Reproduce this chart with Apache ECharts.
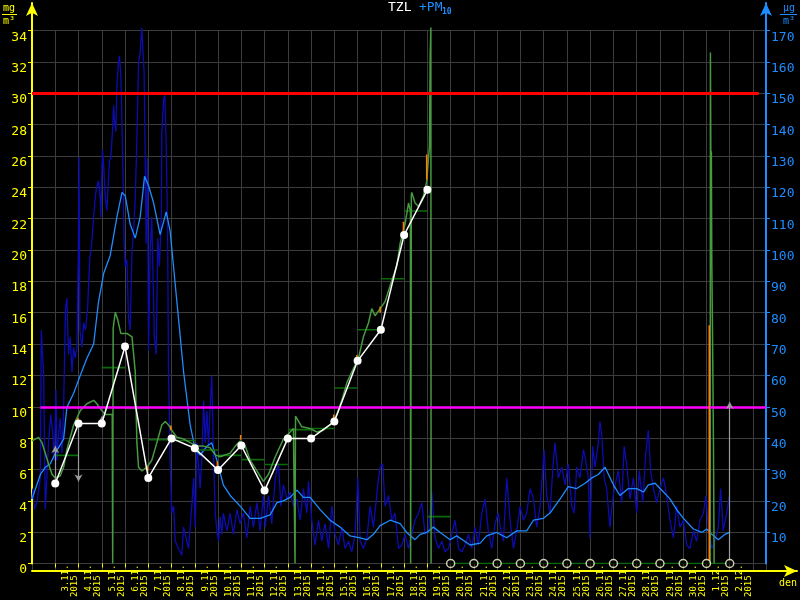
<!DOCTYPE html>
<html><head><meta charset="utf-8">
<script src="https://cdn.jsdelivr.net/npm/echarts@6/dist/echarts.min.js"></script>
<style>html,body{margin:0;background:#000}#c{width:800px;height:600px}</style>
</head><body><div id="c"></div>
<script>
// ---- DATA (time t in days from 3.11.2015 00:00) ----
const dayLabels = ['3.11.','4.11.','5.11.','6.11.','7.11.','8.11.','9.11.','10.11.','11.11.','12.11.','13.11.','14.11.','15.11.','16.11.','17.11.','18.11.','19.11.','20.11.','21.11.','22.11.','23.11.','24.11.','25.11.','26.11.','27.11.','28.11.','29.11.','30.11.','1.12.','2.12.'];
const yearLabel = '2015';

// PM10 raw (µg/m3, right axis)
const pm10Raw = [[-1.00,20.6],[-0.96,23.9],[-0.90,17.2],[-0.79,19.4],[-0.64,27.3],[-0.60,74.5],[-0.54,65.5],[-0.50,61.0],[-0.43,17.2],[-0.36,27.3],[-0.29,38.5],[-0.19,47.5],[-0.10,40.8],[-0.04,32.9],[0.03,55.4],[0.07,32.9],[0.14,40.8],[0.21,46.4],[0.29,35.2],[0.36,49.8],[0.44,81.3],[0.50,84.7],[0.57,66.7],[0.64,72.3],[0.72,61.0],[0.79,68.9],[0.86,65.5],[0.93,68.9],[0.99,97.0],[1.02,129.6],[1.06,74.5],[1.15,68.9],[1.22,76.8],[1.30,74.5],[1.39,81.3],[1.48,97.0],[1.56,101.5],[1.65,110.5],[1.72,116.8],[1.76,119.4],[1.86,122.1],[1.93,116.8],[1.96,110.5],[2.03,132.0],[2.08,127.3],[2.15,116.8],[2.22,112.6],[2.33,128.4],[2.39,129.4],[2.46,137.8],[2.51,146.2],[2.55,141.0],[2.61,137.8],[2.65,152.5],[2.72,159.9],[2.76,162.0],[2.82,155.7],[2.86,143.1],[2.91,125.2],[2.96,102.1],[3.01,94.8],[3.08,96.9],[3.15,78.0],[3.22,74.5],[3.30,99.3],[3.37,106.3],[3.44,116.8],[3.51,134.7],[3.58,159.9],[3.65,163.0],[3.72,170.9],[3.77,170.4],[3.82,156.7],[3.87,129.4],[3.91,102.1],[3.97,129.4],[4.01,67.8],[4.08,99.3],[4.15,110.5],[4.26,72.3],[4.34,66.7],[4.41,103.8],[4.48,94.8],[4.56,110.5],[4.58,136.8],[4.66,148.3],[4.71,149.4],[4.77,133.6],[4.83,106.3],[4.87,61.0],[4.94,32.9],[5.01,16.1],[5.09,18.3],[5.16,7.1],[5.30,4.8],[5.44,2.6],[5.52,11.6],[5.59,9.3],[5.73,4.8],[5.87,18.3],[5.95,27.3],[6.02,11.6],[6.09,38.5],[6.23,23.9],[6.30,32.9],[6.38,52.0],[6.45,38.5],[6.52,48.7],[6.59,37.4],[6.66,49.8],[6.73,59.9],[6.81,32.9],[6.88,16.1],[6.95,10.4],[7.02,7.1],[7.09,14.9],[7.16,9.3],[7.23,16.1],[7.38,10.4],[7.52,16.1],[7.66,9.3],[7.81,17.2],[7.95,12.7],[8.09,16.1],[8.24,8.2],[8.38,18.3],[8.52,11.6],[8.67,19.4],[8.81,10.4],[8.95,21.7],[9.03,11.6],[9.17,21.7],[9.31,12.7],[9.46,27.3],[9.60,31.8],[9.70,18.3],[9.81,25.1],[9.96,20.6],[10.10,22.8],[10.24,18.3],[10.39,20.6],[10.53,13.8],[10.67,23.9],[10.82,16.1],[10.89,26.2],[11.03,13.8],[11.17,5.9],[11.32,13.8],[11.46,7.1],[11.60,12.7],[11.75,4.8],[11.89,18.3],[12.03,9.3],[12.18,5.9],[12.32,11.6],[12.46,4.8],[12.61,7.1],[12.75,3.7],[12.89,9.3],[13.01,27.3],[13.11,7.1],[13.25,4.8],[13.40,8.2],[13.54,18.3],[13.68,11.6],[13.90,27.3],[13.97,30.7],[14.08,31.8],[14.18,18.3],[14.33,21.7],[14.47,13.8],[14.61,16.1],[14.76,4.8],[14.90,5.9],[15.04,9.3],[15.19,4.8],[15.26,4.8],[15.47,13.8],[15.62,16.1],[15.76,19.4],[15.90,9.3],[16.05,10.4],[16.19,22.8],[16.33,8.2],[16.48,4.8],[16.62,7.1],[16.76,3.7],[16.91,4.8],[17.05,9.3],[17.19,13.8],[17.34,4.8],[17.48,3.7],[17.62,5.9],[17.77,9.3],[17.91,4.8],[18.05,11.6],[18.19,5.9],[18.34,16.1],[18.48,20.6],[18.62,10.4],[18.77,4.8],[18.91,12.7],[19.05,16.1],[19.13,11.6],[19.27,7.1],[19.41,27.3],[19.56,13.8],[19.70,4.8],[19.84,10.4],[19.99,18.3],[20.13,13.8],[20.27,16.1],[20.42,23.9],[20.56,20.6],[20.70,11.6],[20.85,18.3],[21.02,36.3],[21.13,21.7],[21.27,16.1],[21.42,32.9],[21.49,38.5],[21.63,27.3],[21.78,30.7],[21.92,25.1],[22.06,31.8],[22.21,18.3],[22.31,16.1],[22.42,30.7],[22.56,27.3],[22.71,36.3],[22.78,34.1],[22.92,27.3],[22.99,8.2],[23.11,37.4],[23.21,30.7],[23.35,38.5],[23.42,45.3],[23.50,40.8],[23.60,27.3],[23.71,23.9],[23.85,11.6],[23.97,20.6],[24.07,25.1],[24.21,29.6],[24.36,19.4],[24.46,37.4],[24.57,31.8],[24.71,20.6],[24.86,27.3],[25.00,16.1],[25.11,29.6],[25.26,19.4],[25.39,35.2],[25.50,42.5],[25.60,29.6],[25.72,23.9],[25.86,19.4],[26.00,23.9],[26.15,27.3],[26.29,21.7],[26.43,13.8],[26.58,8.2],[26.72,18.3],[26.86,11.6],[27.01,13.8],[27.15,5.9],[27.29,4.8],[27.44,10.4],[27.58,7.1],[27.72,13.8],[27.87,16.1],[27.98,21.7],[28.08,11.6],[28.23,4.8],[28.37,7.1],[28.51,11.6],[28.61,23.9],[28.72,10.4],[28.87,16.1],[28.99,21.7]];

// PM10 moving average (µg/m3, right axis)
const pm10Avg = [[-1.00,20.6],[-0.64,28.4],[-0.43,30.7],[-0.21,31.8],[0.00,35.2],[0.36,39.7],[0.50,49.8],[0.79,54.3],[1.07,59.9],[1.36,65.5],[1.65,70.0],[1.86,83.5],[2.08,92.5],[2.36,98.2],[2.65,110.5],[2.87,118.4],[3.01,117.3],[3.22,108.3],[3.44,103.8],[3.65,110.5],[3.84,123.5],[4.01,120.6],[4.23,115.0],[4.51,104.9],[4.77,112.2],[4.94,106.0],[5.23,83.5],[5.52,61.0],[5.80,44.2],[6.02,36.3],[6.23,34.6],[6.52,37.4],[6.73,38.5],[6.95,32.9],[7.23,25.0],[7.52,21.7],[7.95,18.3],[8.38,14.4],[8.81,14.4],[9.24,15.5],[9.53,19.4],[9.81,20.0],[10.10,21.1],[10.39,23.4],[10.67,21.1],[10.96,21.1],[11.39,17.2],[11.82,13.8],[12.25,11.6],[12.68,8.8],[13.11,8.2],[13.40,7.6],[13.68,9.3],[13.97,12.1],[14.40,13.8],[14.83,12.7],[15.11,9.9],[15.47,7.6],[15.69,9.3],[15.97,9.9],[16.26,11.6],[16.55,9.9],[16.98,7.6],[17.26,8.8],[17.84,5.9],[18.27,6.5],[18.55,8.8],[18.98,9.9],[19.41,8.2],[19.84,10.4],[20.27,10.4],[20.56,13.8],[20.99,14.4],[21.27,16.1],[21.71,20.6],[22.06,24.5],[22.42,23.9],[22.78,25.6],[23.07,27.3],[23.35,28.4],[23.64,30.7],[24.00,25.1],[24.28,21.7],[24.64,23.9],[25.00,23.9],[25.29,22.8],[25.50,25.1],[25.79,25.6],[26.15,22.8],[26.43,20.6],[26.72,17.2],[27.01,14.4],[27.44,11.0],[27.80,9.9],[28.01,11.0],[28.23,9.3],[28.51,7.6],[28.80,9.3],[28.99,9.9]];

// TZL running values (mg/m3, left axis)
const tzl = [[-1.00,7.82],[-0.72,8.05],[-0.57,7.71],[-0.43,7.04],[-0.29,6.36],[-0.14,5.69],[0.00,5.46],[0.21,5.58],[0.36,6.14],[0.50,7.26],[0.79,8.84],[1.07,9.74],[1.36,10.19],[1.65,10.41],[1.79,10.19],[2.01,9.74],[2.15,9.51],[2.36,9.51],[2.45,9.51],[2.47,0],[2.49,15.0],[2.58,16.03],[2.68,15.58],[2.82,14.68],[3.08,14.68],[3.30,14.46],[3.44,12.21],[3.51,7.71],[3.58,6.14],[3.72,5.91],[3.94,6.14],[4.15,6.59],[4.37,7.71],[4.58,8.84],[4.73,9.06],[4.87,8.84],[5.01,8.50],[5.23,8.05],[5.52,7.94],[5.80,7.71],[6.09,7.49],[6.38,7.49],[6.66,7.38],[6.88,6.93],[7.09,6.81],[7.31,6.93],[7.52,7.04],[7.74,7.49],[7.95,7.82],[8.17,7.49],[8.38,6.59],[8.67,5.91],[8.95,5.24],[9.17,5.69],[9.46,6.81],[9.81,7.94],[10.10,8.39],[10.24,8.61],[10.30,8.61],[10.31,0],[10.32,0],[10.33,9.40],[10.39,9.29],[10.60,8.72],[10.96,8.61],[11.25,8.39],[11.53,8.50],[11.82,8.84],[12.11,9.51],[12.32,10.41],[12.54,11.54],[12.82,12.44],[13.04,13.11],[13.25,14.46],[13.47,15.36],[13.61,16.26],[13.75,15.81],[13.97,16.26],[14.18,16.71],[14.47,18.06],[14.68,18.96],[14.83,20.42],[15.04,21.66],[15.19,23.00],[15.27,22.5],[15.28,0],[15.30,0],[15.31,23.5],[15.33,23.68],[15.47,23.00],[15.62,22.78],[15.83,23.46],[15.97,24.35],[16.05,25.93],[16.09,26.60],[16.12,32.45],[16.15,34.2],[16.16,0],[16.17,'-'],[28.16,0],[28.17,32.6],[28.19,25.4],[28.21,26.3],[28.23,19.2],[28.26,14.8],[28.30,7.7],[28.33,0]];

// TZL daily means (horizontal segments)
const segDays = [0,1,2,3,4,5,6,7,8,9,10,11,12,13,14,15,16,17,18,19,20,21,22,23,24,25,26,27,28];
const segVals = [6.9,9.95,12.5,9.9,7.9,7.85,7.24,6.9,6.63,6.32,8.54,8.61,11.2,14.91,18.17,22.49,2.99,0,0,0,0,0,0,0,0,0,0,0,0];

// TZL daily points (white)
const dailyDays = [0,1,2,3,4,5,6,7,8,9,10,11,12,13,14,15,16];
const dailyVals = [5.10,8.93,8.93,13.85,5.46,7.98,7.35,5.96,7.53,4.65,7.98,7.98,9.06,12.93,14.91,20.96,23.84];
const missingDays = [17,18,19,20,21,22,23,24,25,26,27,28,29];

// orange marks
const orangeT  = [0.97,3.97,4.97,6.97,7.97,11.97,12.97,13.97,14.97,15.97,28.12];
const orangeLo = [8.9,5.9,8.5,6.1,7.9,9.1,12.9,16.0,21.2,24.5,0];
const orangeHi = [9.3,6.2,8.8,6.5,8.2,9.5,13.3,16.4,21.8,26.1,15.2];

// grey arrows
const arrowT = [0,1,2,29];
const arrowFrom = [5.10,8.93,8.93,0];
const arrowTo = [7.5,5.23,9.4,10.3];

// limits
const limitRed = 30, limitMagenta = 10;

// ---- CHART ----
const MONO = '"DejaVu Sans Mono", monospace';
const LEFTMAX = 568/ (540/34);
const chart = echarts.init(document.getElementById('c'));

const segData = [];
segDays.forEach((d,i)=>{ segData.push([d,segVals[i]],[d+1,segVals[i]],[d+1,'-']); });
const orangeData = [];
orangeT.forEach((t,i)=>{ orangeData.push([t,orangeLo[i]],[t,orangeHi[i]],[t+0.001,'-']); });
const dailyData = dailyDays.map((d,i)=>[d,dailyVals[i]]);
const missData = missingDays.map(d=>[d,0]);

const markData = [
  [{coord:[-1,limitRed],symbol:'none',lineStyle:{color:'#ff0000',width:3,type:'solid'}},{coord:[30.25,limitRed],symbol:'none'}],
  [{coord:[-0.64,limitMagenta],symbol:'none',lineStyle:{color:'#ff00ff',width:2.5,type:'solid'}},{coord:[30.56,limitMagenta],symbol:'none'}]
].concat(arrowT.map((t,i)=>[
  {coord:[t,arrowFrom[i]],symbol:'none',lineStyle:{color:'#9a9a9a',width:1.2,type:'solid'}},
  {coord:[t,arrowTo[i]],symbol:'arrow',symbolSize:[6,7]}
]));

const option = {
  backgroundColor:'#000',
  animation:false,
  grid:[
    {left:32,right:34,top:3,bottom:29},
    {left:32,right:34,top:31,bottom:29},
    {left:32,right:2,top:3,bottom:29}
  ],
  xAxis:[
    {type:'value',gridIndex:0,min:-1,max:30.56,interval:1,
     axisLine:{show:false,onZero:false},splitLine:{show:false},
     axisTick:{show:true,length:4,customValues:dayLabels.map((_,i)=>i),lineStyle:{color:'#ffff00',width:1}},
     axisLabel:{show:true,rotate:90,margin:1,color:'#ffff00',fontFamily:MONO,fontSize:9,lineHeight:9,
       customValues:dayLabels.map((_,i)=>i+0.64),
       formatter:(v)=>{const k=Math.round(v-0.64);return (dayLabels[k]||'')+'\n'+yearLabel+'  ';}}},
    {type:'value',gridIndex:1,min:-1,max:30.56,interval:1,
     axisLine:{show:false,onZero:false},axisTick:{show:false},axisLabel:{show:false},
     splitLine:{show:true,lineStyle:{color:'#3c3c3c',width:1}}},
    {type:'value',gridIndex:2,min:0,max:1,
     axisLine:{show:true,onZero:false,lineStyle:{color:'#ffff00',width:2},symbol:['none','arrow'],symbolSize:[9,13]},
     axisTick:{show:false},axisLabel:{show:false},splitLine:{show:false},
     name:'den',nameLocation:'end',nameGap:-9,
     nameTextStyle:{color:'#ffff00',fontFamily:MONO,fontSize:10,align:'center',verticalAlign:'top',padding:[7,0,0,0]}}
  ],
  yAxis:[
    {type:'value',gridIndex:0,position:'left',min:0,max:LEFTMAX,interval:2,
     axisLine:{show:true,onZero:false,lineStyle:{color:'#ffff00',width:2},symbol:['none','arrow'],symbolSize:[9,13]},
     axisTick:{show:true,length:4,lineStyle:{color:'#ffff00'}},
     axisLabel:{color:'#ffff00',fontFamily:MONO,fontSize:13,margin:5,verticalAlign:'top',showMaxLabel:false,
       formatter:v=>(Math.abs(v-Math.round(v))<1e-6 && Math.round(v)%2===0)?String(Math.round(v)):''},
     splitLine:{show:true,showMaxLine:false,lineStyle:{color:'#3c3c3c',width:1}}},
    {type:'value',gridIndex:0,position:'right',min:0,max:LEFTMAX*5,interval:10,
     axisLine:{show:true,onZero:false,lineStyle:{color:'#1e8cff',width:2},symbol:['none','arrow'],symbolSize:[9,13]},
     axisTick:{show:true,length:4,lineStyle:{color:'#1e8cff'}},
     axisLabel:{color:'#1e8cff',fontFamily:MONO,fontSize:13,margin:5,verticalAlign:'top',showMaxLabel:false,showMinLabel:false,
       formatter:v=>(v>0 && Math.abs(v-Math.round(v))<1e-6 && Math.round(v)%10===0)?String(Math.round(v)):''},
     splitLine:{show:false}},
    {type:'value',gridIndex:1,min:0,max:34,show:false},
    {type:'value',gridIndex:2,min:0,max:1,show:false}
  ],
  graphic:[
    {type:'text',x:388,y:1,style:{text:'TZL',fill:'#ffffff',font:'13px '+MONO}},
    {type:'text',x:419,y:1,style:{text:'+PM',fill:'#1e8cff',font:'13px '+MONO}},
    {type:'text',x:442,y:8,style:{text:'10',fill:'#1e8cff',font:'bold 8px '+MONO}},
    {type:'text',x:3,y:3,style:{text:'mg',fill:'#ffff00',font:'10px '+MONO}},
    {type:'line',shape:{x1:2,y1:14.5,x2:17,y2:14.5},style:{stroke:'#ffff00',lineWidth:1}},
    {type:'text',x:3,y:16,style:{text:'m³',fill:'#ffff00',font:'10px '+MONO}},
    {type:'text',x:783,y:3,style:{text:'μg',fill:'#1e8cff',font:'10px '+MONO}},
    {type:'line',shape:{x1:780,y1:14.5,x2:797,y2:14.5},style:{stroke:'#1e8cff',lineWidth:1}},
    {type:'text',x:783,y:16,style:{text:'m³',fill:'#1e8cff',font:'10px '+MONO}}
  ],
  series:[
    {type:'line',name:'PM10 raw',xAxisIndex:0,yAxisIndex:1,data:pm10Raw,showSymbol:false,symbol:'none',
     lineStyle:{color:'#0c0cb0',width:1.3},z:1,silent:true},
    {type:'line',name:'PM10 avg',xAxisIndex:0,yAxisIndex:1,data:pm10Avg,showSymbol:false,symbol:'none',
     lineStyle:{color:'#1e8cff',width:1.3},z:2,silent:true},
    {type:'line',name:'TZL day',xAxisIndex:0,yAxisIndex:0,data:segData,showSymbol:false,symbol:'none',
     lineStyle:{color:'#0b6a0b',width:1.6},z:3,silent:true},
    {type:'line',name:'TZL',xAxisIndex:0,yAxisIndex:0,data:tzl,showSymbol:false,symbol:'none',
     lineStyle:{color:'#479a3f',width:1.5},z:4,silent:true},
    {type:'line',name:'orange',xAxisIndex:0,yAxisIndex:0,data:orangeData,showSymbol:false,symbol:'none',
     lineStyle:{color:'#ff8000',width:1.5},z:5,silent:true,
     markLine:{silent:true,symbol:'none',label:{show:false},emphasis:{disabled:true},animation:false,data:markData}},
    {type:'line',name:'TZL daily',xAxisIndex:0,yAxisIndex:0,data:dailyData,symbol:'circle',symbolSize:8,showSymbol:true,
     lineStyle:{color:'#ffffff',width:1.5},itemStyle:{color:'#ffffff'},z:6,silent:true},
    {type:'scatter',name:'missing',xAxisIndex:0,yAxisIndex:0,data:missData,symbol:'circle',symbolSize:8,
     itemStyle:{color:'#000000',borderColor:'#ffffdd',borderWidth:1.5},z:7,silent:true}
  ]
};
chart.setOption(option);
</script></body></html>
